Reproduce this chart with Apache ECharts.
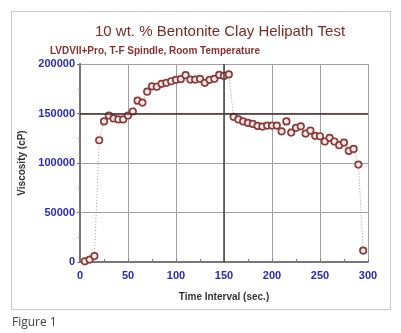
<!DOCTYPE html>
<html><head><meta charset="utf-8">
<script src="https://cdn.jsdelivr.net/npm/echarts@6/dist/echarts.min.js"></script>
<style>
html,body{margin:0;padding:0;background:#fff;}
#frame{position:absolute;left:11px;top:11px;width:380px;height:299px;border:1px solid #c8c8c8;box-sizing:border-box;}
#chart{position:absolute;left:0;top:0;width:401px;height:333px;}
#fig{position:absolute;left:12px;top:313px;font-family:"Open Sans",sans-serif;font-size:12px;color:#444;}
</style></head>
<body>
<div id="frame"></div>
<div id="chart"></div>
<div id="fig">Figure 1</div>
<script>
const times = [5,10,15,20,25,30,35,40,45,50,55,60,65,70,75,80,85,90,95,100,105,110,115,120,125,130,135,140,145,150,155,
  160,165,170,175,180,185,190,195,200,205,210,215,220,225,230,235,240,245,250,255,260,265,270,275,280,285,290,295];
const viscosity = [700,2400,6000,123000,142000,148000,145000,144000,144000,148000,152000,163000,161000,172000,177500,177000,180000,181000,182600,184000,184700,188700,184300,184300,185000,181000,184000,185000,189000,188000,189500,
  146600,144000,142000,140500,139500,137500,136800,137800,137800,137800,132000,142000,130700,135500,137000,129700,132800,127400,127000,121700,125400,121700,118000,120600,112200,114200,98400,11500];
const xTicks = [0,50,100,150,200,250,300];
const yTicks = [0,50000,100000,150000,200000];
const titleText = "10 wt. % Bentonite Clay Helipath Test";
const subtitleText = "LVDVII+Pro, T-F Spindle, Room Temperature";

const chart = echarts.init(document.getElementById('chart'), null, {renderer:'canvas'});
const data = times.map((t,i)=>[t, viscosity[i]]);
chart.setOption({
  backgroundColor:'transparent',
  animation:false,
  title:[
    {text:titleText, left:90, top:19, textStyle:{fontFamily:'Liberation Sans', fontSize:15, fontWeight:'normal', color:'#7a2b2b'}},
    {text:subtitleText, left:45, top:41, textStyle:{fontFamily:'Liberation Sans', fontSize:10, fontWeight:'bold', color:'#8a3030'}}
  ],
  grid:{left:80, right:33, top:64, bottom:71, containLabel:false},
  xAxis:{type:'value', min:0, max:300, interval:50,
    name:'Time Interval (sec.)', nameLocation:'middle', nameGap:30,
    nameTextStyle:{fontFamily:'Liberation Sans', fontSize:10, fontWeight:'bold', color:'#333'},
    axisLine:{show:true, onZero:false, lineStyle:{color:'#777', width:2}},
    axisTick:{show:true, inside:true, length:3, lineStyle:{color:'#777'}},
    minorTick:{show:true, splitNumber:2, length:3, lineStyle:{color:'#777'}},
    axisLabel:{fontFamily:'Liberation Sans', fontSize:11, fontWeight:'bold', color:'#2a2ac0', margin:8,
      formatter:v=>String(v)},
    splitLine:{show:true, lineStyle:{color:'#a0a0a0', width:1}}
  },
  yAxis:{type:'value', min:0, max:200000, interval:50000,
    name:'Viscosity (cP)', nameLocation:'middle', nameGap:50, nameRotate:90,
    nameTextStyle:{fontFamily:'Liberation Sans', fontSize:10, fontWeight:'bold', color:'#333'},
    axisLine:{show:true, onZero:false, lineStyle:{color:'#777', width:2}},
    axisTick:{show:true, length:3, lineStyle:{color:'#777'}},
    minorTick:{show:true, splitNumber:2, length:2, lineStyle:{color:'#999'}},
    axisLabel:{fontFamily:'Liberation Sans', fontSize:11, fontWeight:'bold', color:'#2a2ac0', margin:5,
      formatter:v=>String(v)},
    splitLine:{show:true, lineStyle:{color:'#a0a0a0', width:1}}
  },
  series:[{
    type:'line', data:data,
    symbol:'circle', symbolSize:6.5,
    itemStyle:{color:'#f5eaea', borderColor:'#8b3a3a', borderWidth:1.7},
    lineStyle:{color:'#999', width:1, type:[1,2]},
    markLine:{silent:true, symbol:'none', label:{show:false},
      data:[{yAxis:150000, lineStyle:{color:'#4a2a2a', width:1.5, type:'solid'}},
            {xAxis:150, lineStyle:{color:'#444', width:1.5, type:'solid'}}]
    },
    z:3
  }]
});
</script>
</body></html>
